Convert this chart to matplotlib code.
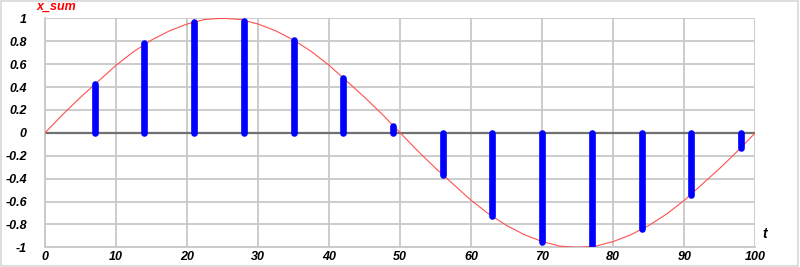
import matplotlib
matplotlib.use("Agg")
import matplotlib.pyplot as plt
from matplotlib.patches import Rectangle

# red reference curve, every 2.5 units of t
t_curve = [0, 2.5, 5, 7.5, 10, 12.5, 15, 17.5, 20, 22.5, 25, 27.5, 30, 32.5, 35, 37.5, 40,
           42.5, 45, 47.5, 50, 52.5, 55, 57.5, 60, 62.5, 65, 67.5, 70, 72.5, 75, 77.5, 80,
           82.5, 85, 87.5, 90, 92.5, 95, 97.5, 100]
x_curve = [0, 0.16, 0.31, 0.45, 0.59, 0.71, 0.81, 0.89, 0.95, 0.99, 1.0, 0.99, 0.95, 0.89,
           0.81, 0.71, 0.59, 0.45, 0.31, 0.16, 0, -0.16, -0.31, -0.45, -0.59, -0.71, -0.81,
           -0.89, -0.95, -0.99, -1.0, -0.99, -0.95, -0.89, -0.81, -0.71, -0.59, -0.45, -0.31,
           -0.16, 0]

# blue samples
t_samp = [7, 14, 21, 28, 35, 42, 49, 56, 63, 70, 77, 84, 91, 98]
x_samp = [0.43, 0.78, 0.97, 0.98, 0.81, 0.48, 0.06, -0.37, -0.73, -0.95, -0.99, -0.84,
          -0.54, -0.13]

xticks = [0, 10, 20, 30, 40, 50, 60, 70, 80, 90, 100]
yticks = [-1, -0.8, -0.6, -0.4, -0.2, 0, 0.2, 0.4, 0.6, 0.8, 1]
ylabels = ["-1", "-0.8", "-0.6", "-0.4", "-0.2", "0", "0.2", "0.4", "0.6", "0.8", "1"]

plt.rcParams['font.family'] = ['Liberation Sans', 'DejaVu Sans']

fig = plt.figure(figsize=(8, 2.67), dpi=100)
ax = fig.add_axes([45/800, 1-247.3/267, 710.3/800, 229/267])

ax.set_xlim(0, 100)
ax.set_ylim(-1, 1)
ax.set_xticks(xticks)
ax.set_yticks(yticks)
ax.set_xticklabels([str(v) for v in xticks])
ax.set_yticklabels(ylabels)
ax.grid(True, color="#c8c8c8", linewidth=1.3)
ax.set_axisbelow(True)
ax.tick_params(axis="y", length=0, pad=13)
ax.tick_params(axis="x", length=0, pad=3)
for lab in ax.get_xticklabels() + ax.get_yticklabels():
    lab.set_fontsize(9)
    lab.set_fontweight("bold")
    lab.set_fontstyle("italic")
for s in ax.spines.values():
    s.set_visible(False)
ax.spines['left'].set_visible(True)
ax.spines['left'].set_color("#c8c8c8")
ax.spines['left'].set_linewidth(1.3)
ax.spines['bottom'].set_visible(True)
ax.spines['bottom'].set_color("#c8c8c8")
ax.spines['bottom'].set_linewidth(1.3)

ax.axhline(0, color="#707070", linewidth=1.6, zorder=2)

ax.plot(t_curve, x_curve, color="#ff5050", linewidth=0.8, zorder=3)
ax.vlines(t_samp, 0, x_samp, color="#0000ff", linewidth=4.8, capstyle="round", zorder=4)

fig.text(37/800, 1-7/267, "x_sum", color="#ff0000", fontsize=9, fontweight="bold",
         fontstyle="italic", va="center", ha="left")
fig.text(765/800, 1-234/267, "t", color="black", fontsize=10, fontweight="bold",
         fontstyle="italic", va="center", ha="center")

fig.patches.append(Rectangle((0.001, 0.004), 0.997, 0.994, transform=fig.transFigure,
                             fill=False, edgecolor="#d8d8d8", linewidth=1.2))

fig.savefig("out.png", dpi=100)
